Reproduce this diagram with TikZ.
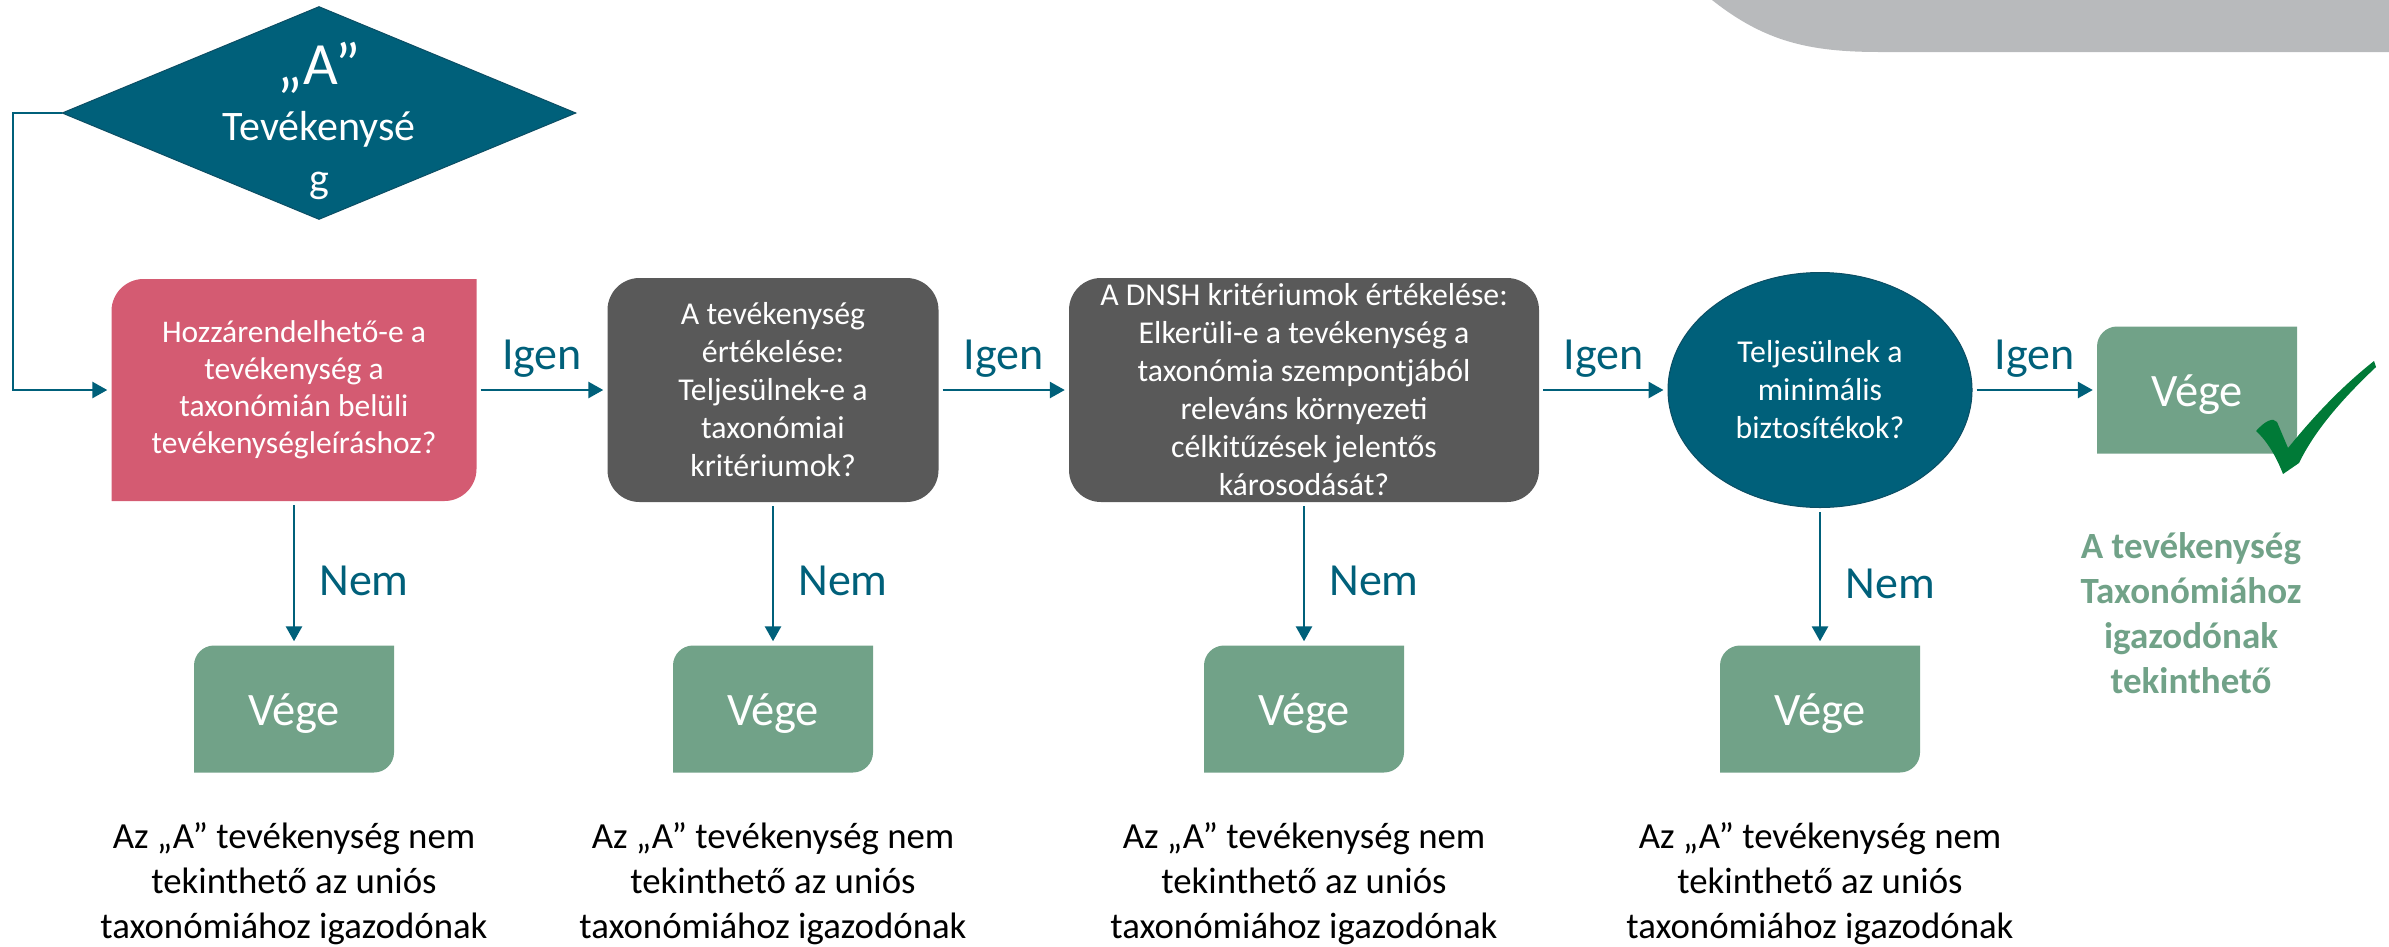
\documentclass[tikz,border=0pt]{standalone}
\usepackage{fontspec}
\setmainfont{Carlito}
\usetikzlibrary{shapes.geometric,arrows.meta,positioning}

\definecolor{tealblue}{RGB}{0,96,122}
\definecolor{tealdark}{RGB}{12,78,100}
\definecolor{rosered}{RGB}{212,91,114}
\definecolor{darkgrey}{RGB}{89,89,89}
\definecolor{sagegreen}{RGB}{113,162,136}
\definecolor{checkgreen}{RGB}{0,122,55}
\definecolor{lightgrey}{RGB}{184,186,188}

\def\ppb{path picture bounding box}
\newcommand{\boxfont}{\fontsize{31.8}{38}\selectfont}
\newcommand{\bigfont}{\fontsize{46}{55}\selectfont}

\tikzset{
  rdiag/.style 2 args={path picture={
    \fill[#1] (\ppb.south west) -- ([yshift=-#2]\ppb.north west)
      .. controls ([yshift=-0.45*#2]\ppb.north west) and ([xshift=0.45*#2]\ppb.north west) .. ([xshift=#2]\ppb.north west)
      -- (\ppb.north east) -- ([yshift=#2]\ppb.south east)
      .. controls ([yshift=0.45*#2]\ppb.south east) and ([xshift=-0.45*#2]\ppb.south east) .. ([xshift=-#2]\ppb.south east)
      -- cycle;}},
  decision/.style={diamond, fill=tealblue, draw=tealdark, line width=1pt, minimum width=514pt, minimum height=213pt, inner sep=0pt},
  pinkbox/.style={rectangle, rdiag={rosered}{32pt}, minimum width=365pt, minimum height=222pt, inner sep=0pt, text=white, align=center, font=\fontsize{31.5}{37}\selectfont},
  greybox/.style={rectangle, rounded corners=32pt, fill=darkgrey, minimum width=331pt, minimum height=224pt, inner sep=0pt, text=white, align=center, font=\boxfont},
  safeguard/.style={ellipse, fill=tealblue, draw=tealdark, line width=1pt, minimum width=304pt, minimum height=235pt, inner sep=0pt, text=white, align=center, font=\boxfont},
  endbox/.style={rectangle, rdiag={sagegreen}{20pt}, minimum width=200pt, minimum height=127pt, inner sep=0pt, text=white, text height=42pt, text depth=9pt, font=\fontsize{46.5}{55}\selectfont},
  note/.style={align=center, inner sep=0pt, text=black, font=\fontsize{36.8}{45}\selectfont},
  conn/.style={draw=tealblue, line width=2.7pt, shorten >=4pt, shorten <=4pt, -{Triangle[length=15pt,width=16pt]}},
  yes/.style={midway, above=11pt, inner sep=0pt, text=tealblue, font=\bigfont},
  no/.style={pos=.55, right=24pt, inner sep=0pt, text=tealblue, font=\bigfont}
}

\begin{document}
\begin{tikzpicture}[x=1pt, y=-1pt]
\def\rowy{390}
\def\endy{709}
\def\colone{294}
\def\coltwo{773}
\def\colthree{1304}
\def\colfour{1820}

\useasboundingbox (0,0) rectangle (2389,946);

%grey tab top right
\fill[lightgrey] (1712,0) .. controls (1765,42) and (1810,52) .. (1880,52) -- (2389,52) -- (2389,0) -- cycle;

%Start diamond
\node[decision] (start) at (319,113) {};
\node[align=center, inner sep=0pt, text=white, font=\fontsize{42}{52}\selectfont] (starttxt) at (319,121) {{\fontsize{60}{60}\selectfont „A”}\\[4pt]Tevékenysé\\g};
\coordinate (loop) at (13,113);

%Main row
\node[pinkbox] (assign) at (\colone,\rowy) {Hozzárendelhető-e a\\tevékenység a\\taxonómián belüli\\tevékenységleíráshoz?};
\node[greybox] (evalone) at (\coltwo,\rowy) {A tevékenység\\értékelése:\\Teljesülnek-e a\\taxonómiai\\kritériumok?};
\node[greybox, minimum width=470pt] (dnsh) at (\colthree,\rowy) {A DNSH kritériumok értékelése:\\Elkerüli-e a tevékenység a\\taxonómia szempontjából\\releváns környezeti\\célkitűzések jelentős\\károsodását?};
\node[safeguard] (minsafe) at (\colfour,\rowy) {Teljesülnek a\\minimális\\biztosítékok?};
\node[endbox] (done) at (2197,\rowy) {Vége};

%Check mark
\fill[checkgreen] (2256,431) .. controls (2265,421) and (2273,417) .. (2277,422) -- (2288,448)
  .. controls (2318,411) and (2345,384) .. (2374,361) -- (2376,367)
  .. controls (2340,401) and (2314,432) .. (2299,463) -- (2283,474)
  .. controls (2276,456) and (2267,441) .. cycle;

\node[align=center, inner sep=0pt, text=sagegreen, font=\bfseries\fontsize{37}{45}\selectfont] (verdict) at (2191,613) {A tevékenység\\Taxonómiához\\igazodónak\\tekinthető};

%End boxes
\node[endbox] (endone) at (\colone,\endy) {Vége};
\node[endbox] (endtwo) at (\coltwo,\endy) {Vége};
\node[endbox] (endthree) at (\colthree,\endy) {Vége};
\node[endbox] (endfour) at (\colfour,\endy) {Vége};

\node[note] (noteone) at (\colone,884) {Az „A” tevékenység nem\\tekinthető az uniós\\taxonómiához igazodónak};
\node[note] (notetwo) at (\coltwo,884) {Az „A” tevékenység nem\\tekinthető az uniós\\taxonómiához igazodónak};
\node[note] (notethree) at (\colthree,884) {Az „A” tevékenység nem\\tekinthető az uniós\\taxonómiához igazodónak};
\node[note] (notefour) at (\colfour,884) {Az „A” tevékenység nem\\tekinthető az uniós\\taxonómiához igazodónak};

%Connectors
\draw[conn, shorten <=0pt] (start.west) -- (loop) |- (assign.west);
\draw[conn] (assign.east) -- node[yes] {Igen} (evalone.west);
\draw[conn] (evalone.east) -- node[yes] {Igen} (dnsh.west);
\draw[conn] (dnsh.east) -- node[yes] {Igen} (minsafe.west);
\draw[conn] (minsafe.east) -- node[yes] {Igen} (done.west);

\draw[conn] (assign.south) -- node[no] {Nem} (endone.north);
\draw[conn] (evalone.south) -- node[no] {Nem} (endtwo.north);
\draw[conn] (dnsh.south) -- node[no] {Nem} (endthree.north);
\draw[conn] (minsafe.south) -- node[no] {Nem} (endfour.north);

\end{tikzpicture}
\end{document}
